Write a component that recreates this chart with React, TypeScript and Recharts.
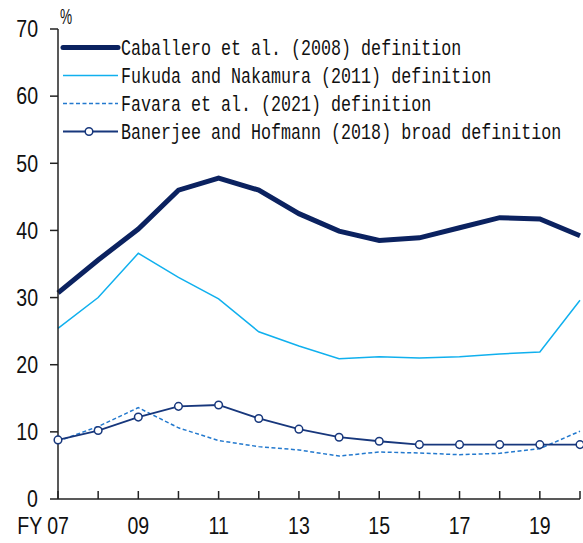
import React from 'react';
import { LineChart, Line, XAxis, YAxis, Legend } from 'recharts';

const years = ['07', '08', '09', '10', '11', '12', '13', '14', '15', '16', '17', '18', '19', '20'];
const xTickLabels = ['FY 07', '', '09', '', '11', '', '13', '', '15', '', '17', '', '19', ''];
const yTicks = [0, 10, 20, 30, 40, 50, 60, 70];

const caballero = [30.7, 35.6, 40.2, 46.0, 47.8, 46.0, 42.5, 39.9, 38.5, 38.9, 40.4, 41.9, 41.7, 39.2];
const fukuda = [25.4, 30.0, 36.6, 33.0, 29.8, 24.9, 22.8, 20.9, 21.2, 21.0, 21.2, 21.6, 21.9, 29.6];
const favara = [8.6, 10.8, 13.6, 10.6, 8.7, 7.8, 7.3, 6.4, 7.0, 6.85, 6.6, 6.8, 7.5, 10.1];
const banerjee = [8.8, 10.2, 12.2, 13.8, 14.0, 12.0, 10.4, 9.2, 8.6, 8.1, 8.1, 8.1, 8.1, 8.1];

const seriesNames = [
  'Caballero et al. (2008) definition',
  'Fukuda and Nakamura (2011) definition',
  'Favara et al. (2021) definition',
  'Banerjee and Hofmann (2018) broad definition',
];

const data = years.map((y, i) => ({
  year: y,
  caballero: caballero[i],
  fukuda: fukuda[i],
  favara: favara[i],
  banerjee: banerjee[i],
}));

const C_CAB = '#0B2260';
const C_FUK = '#10B0EE';
const C_FAV = '#2379CE';
const C_BAN = '#17377C';

const numFont = '"Liberation Sans", Arial, sans-serif';
const monoFont = '"Liberation Mono", "DejaVu Sans Mono", monospace';

const XTick = (props: any) => {
  const { x, y, index } = props;
  const label = xTickLabels[index] || '';
  const isFirst = label.startsWith('FY');
  return (
    <g>
      <line x1={x} x2={x} y1={y} y2={y - 8} stroke="#222" strokeWidth={1.5} />
      {label && (
        <g transform={`translate(${isFirst ? x + 11 : x},${y + 27})`}>
          <text
            transform="scale(0.85,1)"
            textAnchor={isFirst ? 'end' : 'middle'}
            dy="0.36em"
            fontFamily={numFont}
            fontSize={23}
            fill="#111"
          >
            {label}
          </text>
        </g>
      )}
    </g>
  );
};

const YTick = (props: any) => {
  const { x, y, payload } = props;
  return (
    <g>
      <line x1={x - 8} x2={x} y1={y} y2={y} stroke="#222" strokeWidth={1.5} />
      <g transform={`translate(${x - 20},${y})`}>
        <text
          transform="scale(0.85,1)"
          textAnchor="end"
          dy="0.36em"
          fontFamily={numFont}
          fontSize={23}
          fill="#111"
        >
          {payload.value}
        </text>
      </g>
    </g>
  );
};

const legendRows = [
  { name: seriesNames[0], color: C_CAB, width: 5, dash: undefined as string | undefined, dot: false, y: 47.5 },
  { name: seriesNames[1], color: C_FUK, width: 1.5, dash: undefined, dot: false, y: 75.5 },
  { name: seriesNames[2], color: C_FAV, width: 1.5, dash: '4 2.5', dot: false, y: 103.5 },
  { name: seriesNames[3], color: C_BAN, width: 1.8, dash: undefined, dot: true, y: 131.5 },
];

const LegendContent = () => (
  <svg width={583} height={150} style={{ display: 'block' }}>
    {legendRows.map((r) => (
      <g key={r.name}>
        <line
          x1={63}
          x2={118}
          y1={r.y}
          y2={r.y}
          stroke={r.color}
          strokeWidth={r.width}
          strokeDasharray={r.dash}
          strokeLinecap={r.width > 3 ? 'round' : 'butt'}
        />
        {r.dot && <circle cx={89} cy={r.y} r={3.8} fill="#fff" stroke={r.color} strokeWidth={1.5} />}
        <g transform={`translate(121,${r.y})`}>
          <text transform="scale(0.758,1)" dy="0.36em" fontFamily={monoFont} fontSize={22} fill="#111">
            {r.name}
          </text>
        </g>
      </g>
    ))}
    <g transform="translate(60,16)">
      <text transform="scale(0.62,1)" dy="0.36em" fontFamily={numFont} fontSize={22} fill="#111">
        %
      </text>
    </g>
  </svg>
);

export default function App() {
  return (
    <div style={{ position: 'absolute', left: 0, top: 0, width: 583, height: 543, background: '#fff' }}>
      <LineChart width={583} height={543} data={data} margin={{ top: 29, right: 3, bottom: 0, left: 0 }}>
        <XAxis
          dataKey="year"
          height={44}
          interval={0}
          tickSize={0}
          tickMargin={0}
          tick={<XTick />}
          tickLine={false}
          axisLine={{ stroke: '#222', strokeWidth: 1.5 }}
          padding={{ left: 0, right: 0 }}
        />
        <YAxis
          width={58}
          domain={[0, 70]}
          ticks={yTicks}
          interval={0}
          tickSize={0}
          tickMargin={0}
          tick={<YTick />}
          tickLine={false}
          axisLine={{ stroke: '#222', strokeWidth: 1.5 }}
          allowDataOverflow
        />
        <Legend
          layout="vertical"
          align="center"
          verticalAlign="middle"
          content={<LegendContent />}
          wrapperStyle={{ position: 'absolute', left: 0, top: 0, width: 583, height: 150 }}
        />
        <Line
          dataKey="favara"
          name={seriesNames[2]}
          stroke={C_FAV}
          strokeWidth={1.5}
          strokeDasharray="4 2.5"
          dot={false}
          activeDot={false}
          isAnimationActive={false}
        />
        <Line
          dataKey="fukuda"
          name={seriesNames[1]}
          stroke={C_FUK}
          strokeWidth={1.5}
          dot={false}
          activeDot={false}
          isAnimationActive={false}
        />
        <Line
          dataKey="banerjee"
          name={seriesNames[3]}
          stroke={C_BAN}
          strokeWidth={1.8}
          dot={{ r: 3.8, fill: '#fff', stroke: C_BAN, strokeWidth: 1.5 }}
          activeDot={false}
          isAnimationActive={false}
        />
        <Line
          dataKey="caballero"
          name={seriesNames[0]}
          stroke={C_CAB}
          strokeWidth={5}
          dot={false}
          activeDot={false}
          isAnimationActive={false}
        />
      </LineChart>
    </div>
  );
}
